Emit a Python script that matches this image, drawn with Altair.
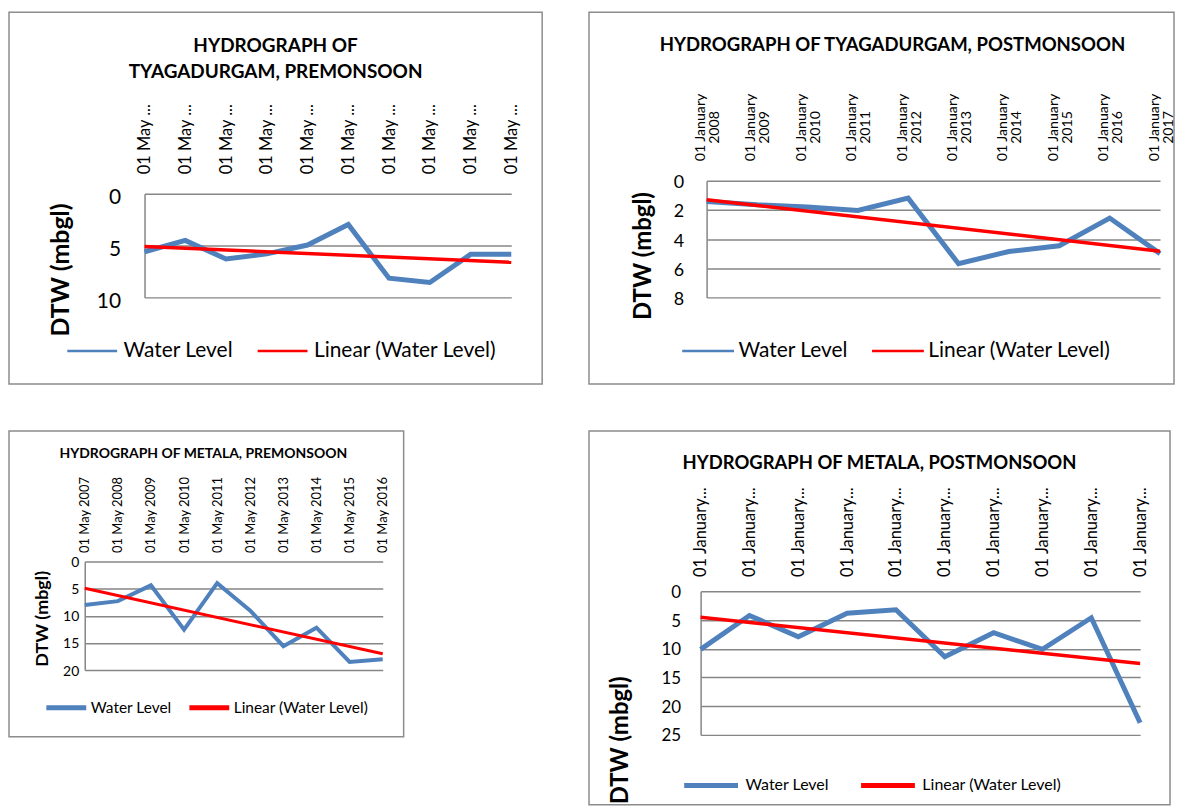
import json
import altair as alt
import pandas as pd

FONT = "Lato"
BLUE = "#4F81BD"
RED = "#FF0000"
GRID = "#868686"
FRAME = "#8C8C8C"
SERIES = ["Water Level", "Linear (Water Level)"]
YTITLE = "DTW (mbgl)"

# Panel 1: Tyagadurgam, premonsoon
tp_title = ["HYDROGRAPH OF", "TYAGADURGAM, PREMONSOON"]
tp_labels = ["01 May ...", "01 May ...", "01 May ...", "01 May ...", "01 May ...",
             "01 May ...", "01 May ...", "01 May ...", "01 May ...", "01 May ..."]
tp_values = [5.6, 4.5, 6.3, 5.8, 4.95, 2.97, 8.15, 8.56, 5.85, 5.85]
tp_ticks = [0, 5, 10]

# Panel 2: Tyagadurgam, postmonsoon
tq_title = "HYDROGRAPH OF TYAGADURGAM, POSTMONSOON"
tq_day = "01 January"
tq_years = ["2008", "2009", "2010", "2011", "2012", "2013", "2014", "2015", "2016", "2017"]
tq_values = [1.42, 1.65, 1.8, 2.03, 1.19, 5.69, 4.85, 4.46, 2.56, 5.0]
tq_ticks = [0, 2, 4, 6, 8]

# Panel 3: Metala, premonsoon
mp_title = "HYDROGRAPH OF METALA, PREMONSOON"
mp_labels = ["01 May 2007", "01 May 2008", "01 May 2009", "01 May 2010", "01 May 2011",
             "01 May 2012", "01 May 2013", "01 May 2014", "01 May 2015", "01 May 2016"]
mp_values = [8.0, 7.3, 4.4, 12.55, 4.0, 9.05, 15.6, 12.2, 18.5, 18.0]
mp_ticks = [0, 5, 10, 15, 20]

# Panel 4: Metala, postmonsoon
mq_title = "HYDROGRAPH OF METALA, POSTMONSOON"
mq_labels = ["01 January...", "01 January...", "01 January...", "01 January...", "01 January...",
             "01 January...", "01 January...", "01 January...", "01 January...", "01 January..."]
mq_values = [10.1, 4.2, 7.9, 3.8, 3.2, 11.4, 7.2, 10.1, 4.6, 22.9]
mq_ticks = [0, 5, 10, 15, 20, 25]


def panel(values, labels, ticks, title, g):
    """Each panel's view is the whole bordered chart box; the plotting
    region sits inside it through the scale ranges and axis offsets."""
    n = len(values)
    L, T, R, B = g["box"]
    pl, pt, pr, pb = g["plot"]
    df = pd.DataFrame({"idx": list(range(n)), "value": values, "series": [SERIES[0]] * n})

    x_axis = dict(orient="top", values=list(range(n)), offset=-(pt - T),
                  labelExpr=json.dumps(labels) + "[datum.value]",
                  labelAngle=270, labelAlign=g["xalign"], labelBaseline="middle",
                  labelPadding=g["xpad"], labelOffset=g.get("xoff", 0),
                  labelFont=FONT, labelFontSize=g["xfs"],
                  labelColor="#000000", labelFlush=False, labelOverlap=False,
                  grid=False, domain=False, ticks=False, tickSize=0)
    if "xlh" in g:
        x_axis["labelLineHeight"] = g["xlh"]
    x = alt.X("idx:Q", title=None,
              scale=alt.Scale(domain=[0, n - 1], range=[pl - L, pr - L], nice=False, zero=False),
              axis=alt.Axis(**x_axis))
    y = alt.Y("value:Q", title=YTITLE,
              scale=alt.Scale(domain=[0, ticks[-1]], range=[pt - T, pb - T], nice=False, zero=False),
              axis=alt.Axis(values=ticks, offset=-(pl - L),
                            grid=True, gridColor=GRID, gridWidth=1.5,
                            domain=True, domainColor=GRID, domainWidth=1.5,
                            ticks=False, tickSize=0,
                            labelFont=FONT, labelFontSize=g["yfs"], labelColor="#000000",
                            labelPadding=g["ypad"], labelOffset=g["yoff"],
                            titleFont=FONT, titleFontSize=g["tfs"], titleFontWeight="bold",
                            titleColor="#000000", titleAngle=270, titleAlign="center",
                            titleBaseline="middle", titleX=g["tx"], titleY=g["ty"] - T))
    color = alt.Color(
        "series:N",
        scale=alt.Scale(domain=SERIES, range=[BLUE, RED]),
        legend=alt.Legend(title=None, orient="none", legendX=g["lx"] - L, legendY=g["ly"] - T,
                          direction="horizontal", symbolType="stroke",
                          symbolSize=g["ssize"], symbolStrokeWidth=g["ssw"],
                          labelFont=FONT, labelFontSize=g["lfs"], labelColor="#000000",
                          labelLimit=600, labelOffset=g["loff"], columnPadding=g["cpad"],
                          padding=0),
    )

    base = alt.Chart(df)
    water = base.mark_line(strokeWidth=g["bw"]).encode(x=x, y=y, color=color)
    trend = (base.transform_regression("idx", "value")
             .transform_calculate(series="'" + SERIES[1] + "'")
             .mark_line(strokeWidth=g["rw"])
             .encode(x=x, y=y, color=color))

    tparams = dict(text=title, font=FONT, fontSize=g["hfs"], fontWeight="bold",
                   color="#000000", anchor="middle", frame="group",
                   dx=g["hdx"], offset=g["hoff"])
    if "hlh" in g:
        tparams["lineHeight"] = g["hlh"]
    return alt.layer(water, trend).properties(
        width=R - L, height=B - T, title=alt.TitleParams(**tparams)
    )


# geometry in page pixels: box = chart frame, plot = plotting region
g1 = dict(box=(8, 10, 543, 383), plot=(144, 192, 512, 296),
          xalign="left", xpad=20, xfs=16.5,
          yfs=21, ypad=24, yoff=4, tfs=25, tx=-84, ty=268,
          lx=65, ly=323, ssize=2500, ssw=2.5, lfs=21, loff=5, cpad=19,
          bw=5, rw=3.5, hfs=19, hdx=0, hoff=-70, hlh=26)
g2 = dict(box=(588, 10, 1175, 383), plot=(706, 179, 1161, 296),
          xalign="center", xpad=54, xfs=14.2, xlh=14, xoff=-6,
          yfs=18, ypad=23, yoff=2, tfs=24, tx=-63, ty=254,
          lx=680, ly=322, ssize=2704, ssw=2.5, lfs=21, loff=3, cpad=18.5,
          bw=5, rw=3.5, hfs=18.6, hdx=11, hoff=-42)
g3 = dict(box=(8, 428, 404, 735), plot=(84, 559, 383, 668),
          xalign="left", xpad=9, xfs=13,
          yfs=14, ypad=6, yoff=1, tfs=18, tx=-42, ty=616,
          lx=43, ly=683, ssize=1600, ssw=5, lfs=15.5, loff=2, cpad=6.5,
          bw=4, rw=3, hfs=14, hdx=-3, hoff=-30)
g4 = dict(box=(587, 428, 1170, 803), plot=(699, 589, 1140, 733),
          xalign="left", xpad=15, xfs=16.5,
          yfs=17, ypad=20, yoff=1, tfs=24, tx=-80, ty=738,
          lx=680, ly=754, ssize=2916, ssw=5, lfs=16, loff=5, cpad=21.5,
          bw=5, rw=3.5, hfs=18.5, hdx=0, hoff=-42)

p1 = panel(tp_values, tp_labels, tp_ticks, tp_title, g1)
p2 = panel(tq_values, [[tq_day, yr] for yr in tq_years], tq_ticks, tq_title, g2)
p3 = panel(mp_values, mp_labels, mp_ticks, mp_title, g3)
p4 = panel(mq_values, mq_labels, mq_ticks, mq_title, g4)

chart = (alt.concat(p1, p2, p3, p4, columns=2, spacing={"row": 45, "column": 45}, align="each")
         .resolve_scale(x="independent", y="independent", color="independent")
         .resolve_legend(color="independent")
         .properties(padding={"top": 2, "left": 0, "right": 0, "bottom": 0}, background="white")
         .configure_view(stroke=FRAME, strokeWidth=1.5))

chart.save("out.html", embed_options={"renderer": "svg", "actions": False})
